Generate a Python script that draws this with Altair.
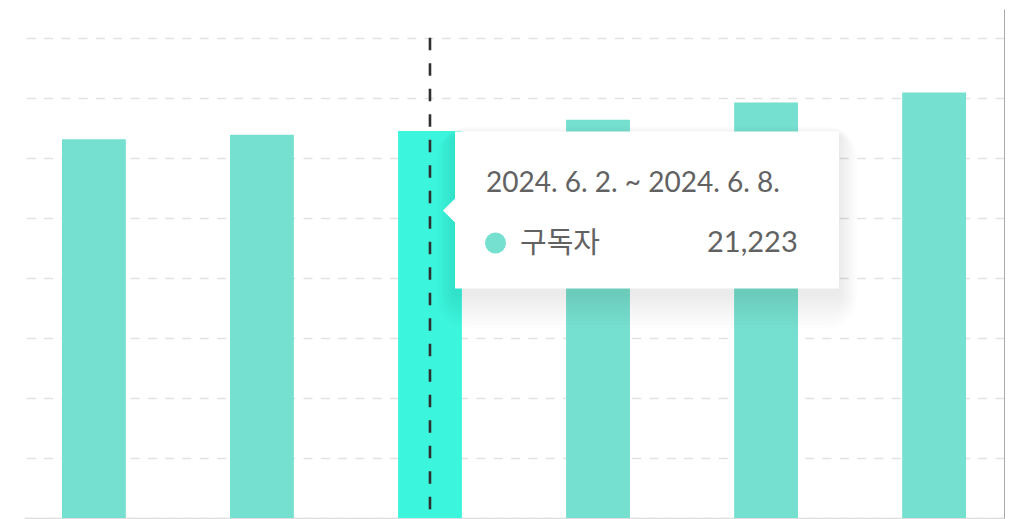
import altair as alt
import pandas as pd

# ---- data ----
weeks = ["5/19", "5/26", "6/2", "6/9", "6/16", "6/23"]
subscribers = [21156, 21192, 21223, 21317, 21461, 21544]
active_week = "6/2"
tooltip_title = "2024. 6. 2. ~ 2024. 6. 8."
series_name = "구독자"
y_ticks = [18000, 18500, 19000, 19500, 20000, 20500, 21000, 21500, 22000]
y_domain = [18000, 22240]

df = pd.DataFrame({"week": weeks, "subscribers": subscribers})
df["state"] = ["active" if w == active_week else "normal" for w in weeks]
active_value = subscribers[weeks.index(active_week)]

W, H = 980, 509
FONT = "Lato, 'Noto Sans CJK KR', sans-serif"
BAR = "#76E0D0"
BAR_ACTIVE = "#3CF5DD"
TEXT = "#626262"

x_enc = alt.X(
    "week:N",
    sort=weeks,
    scale=alt.Scale(paddingInner=0.62, paddingOuter=0.226),
    axis=alt.Axis(labels=False, ticks=False, title=None, grid=False,
                  domainColor="#dedede", domainWidth=1.5),
)
y_scale = alt.Scale(domain=y_domain, nice=False, zero=False)

base = alt.Chart(df)

bars = base.mark_bar().encode(
    x=x_enc,
    y=alt.Y(
        "subscribers:Q",
        scale=y_scale,
        axis=alt.Axis(orient="right", values=y_ticks, labels=False, ticks=False,
                      title=None, grid=True, gridDash=[9, 8.3], gridColor="#e2e2e2",
                      gridWidth=1.6, domainColor="#a8a8a8", domainWidth=1),
    ),
    y2=alt.datum(y_domain[0]),
    color=alt.Color("state:N",
                    scale=alt.Scale(domain=["normal", "active"], range=[BAR, BAR_ACTIVE]),
                    legend=None),
)

cross = base.transform_filter(alt.datum.week == active_week).mark_rule(
    color="#2f2f2f", strokeWidth=2.6, strokeDash=[12.5, 13]
).encode(
    x=alt.X("week:N", sort=weeks),
    y=alt.datum(y_ticks[-1]),
    y2=alt.datum(y_domain[0]),
)

one = alt.Chart(pd.DataFrame({"k": [0]}))

# tooltip box (plot coordinates)
bx1, bx2, by1, by2 = 431, 815, 122.5, 279.5

shadows = []
for i in range(1, 11):
    r = i * 3
    shadows.append(
        one.mark_rect(color="black", opacity=0.007, cornerRadius=r).encode(
            x=alt.value(bx1 - r * 0.6),
            x2=alt.value(bx2 + r * 0.6),
            y=alt.value(by1 - r * 0.3 + 4),
            y2=alt.value(by2 + r * 1.2 + 4),
        )
    )

box = one.mark_rect(color="white").encode(
    x=alt.value(bx1), x2=alt.value(bx2), y=alt.value(by1), y2=alt.value(by2)
)

arrow = one.mark_point(
    shape="M 0 -1 L -1 0 L 0 1 Z", filled=True, fill="white", opacity=1,
    strokeWidth=0, size=625
).encode(x=alt.value(bx1 + 0.5), y=alt.value(201.5))

title_txt = one.mark_text(
    text=tooltip_title, font=FONT, fontSize=28, color=TEXT, align="left", baseline="alphabetic"
).encode(x=alt.value(462), y=alt.value(182.7))

dot = one.mark_point(shape="circle", filled=True, color=BAR, opacity=1, size=441).encode(
    x=alt.value(471.5), y=alt.value(234)
)

name_txt = one.mark_text(
    text=series_name, font=FONT, fontSize=29, color=TEXT, align="left", baseline="alphabetic"
).encode(x=alt.value(496), y=alt.value(243.5))

value_txt = one.mark_text(
    text=f"{active_value:,}", font=FONT, fontSize=29, color=TEXT, align="right", baseline="alphabetic"
).encode(x=alt.value(773.7), y=alt.value(242.7))

chart = alt.layer(
    bars, cross, *shadows, box, arrow, title_txt, dot, name_txt, value_txt
).properties(
    width=W, height=H,
    padding={"left": 16, "top": 1, "right": 2, "bottom": 0},
    background="white",
).configure_view(stroke=None)

chart.save("out.html", embed_options={"renderer": "svg", "actions": False})
